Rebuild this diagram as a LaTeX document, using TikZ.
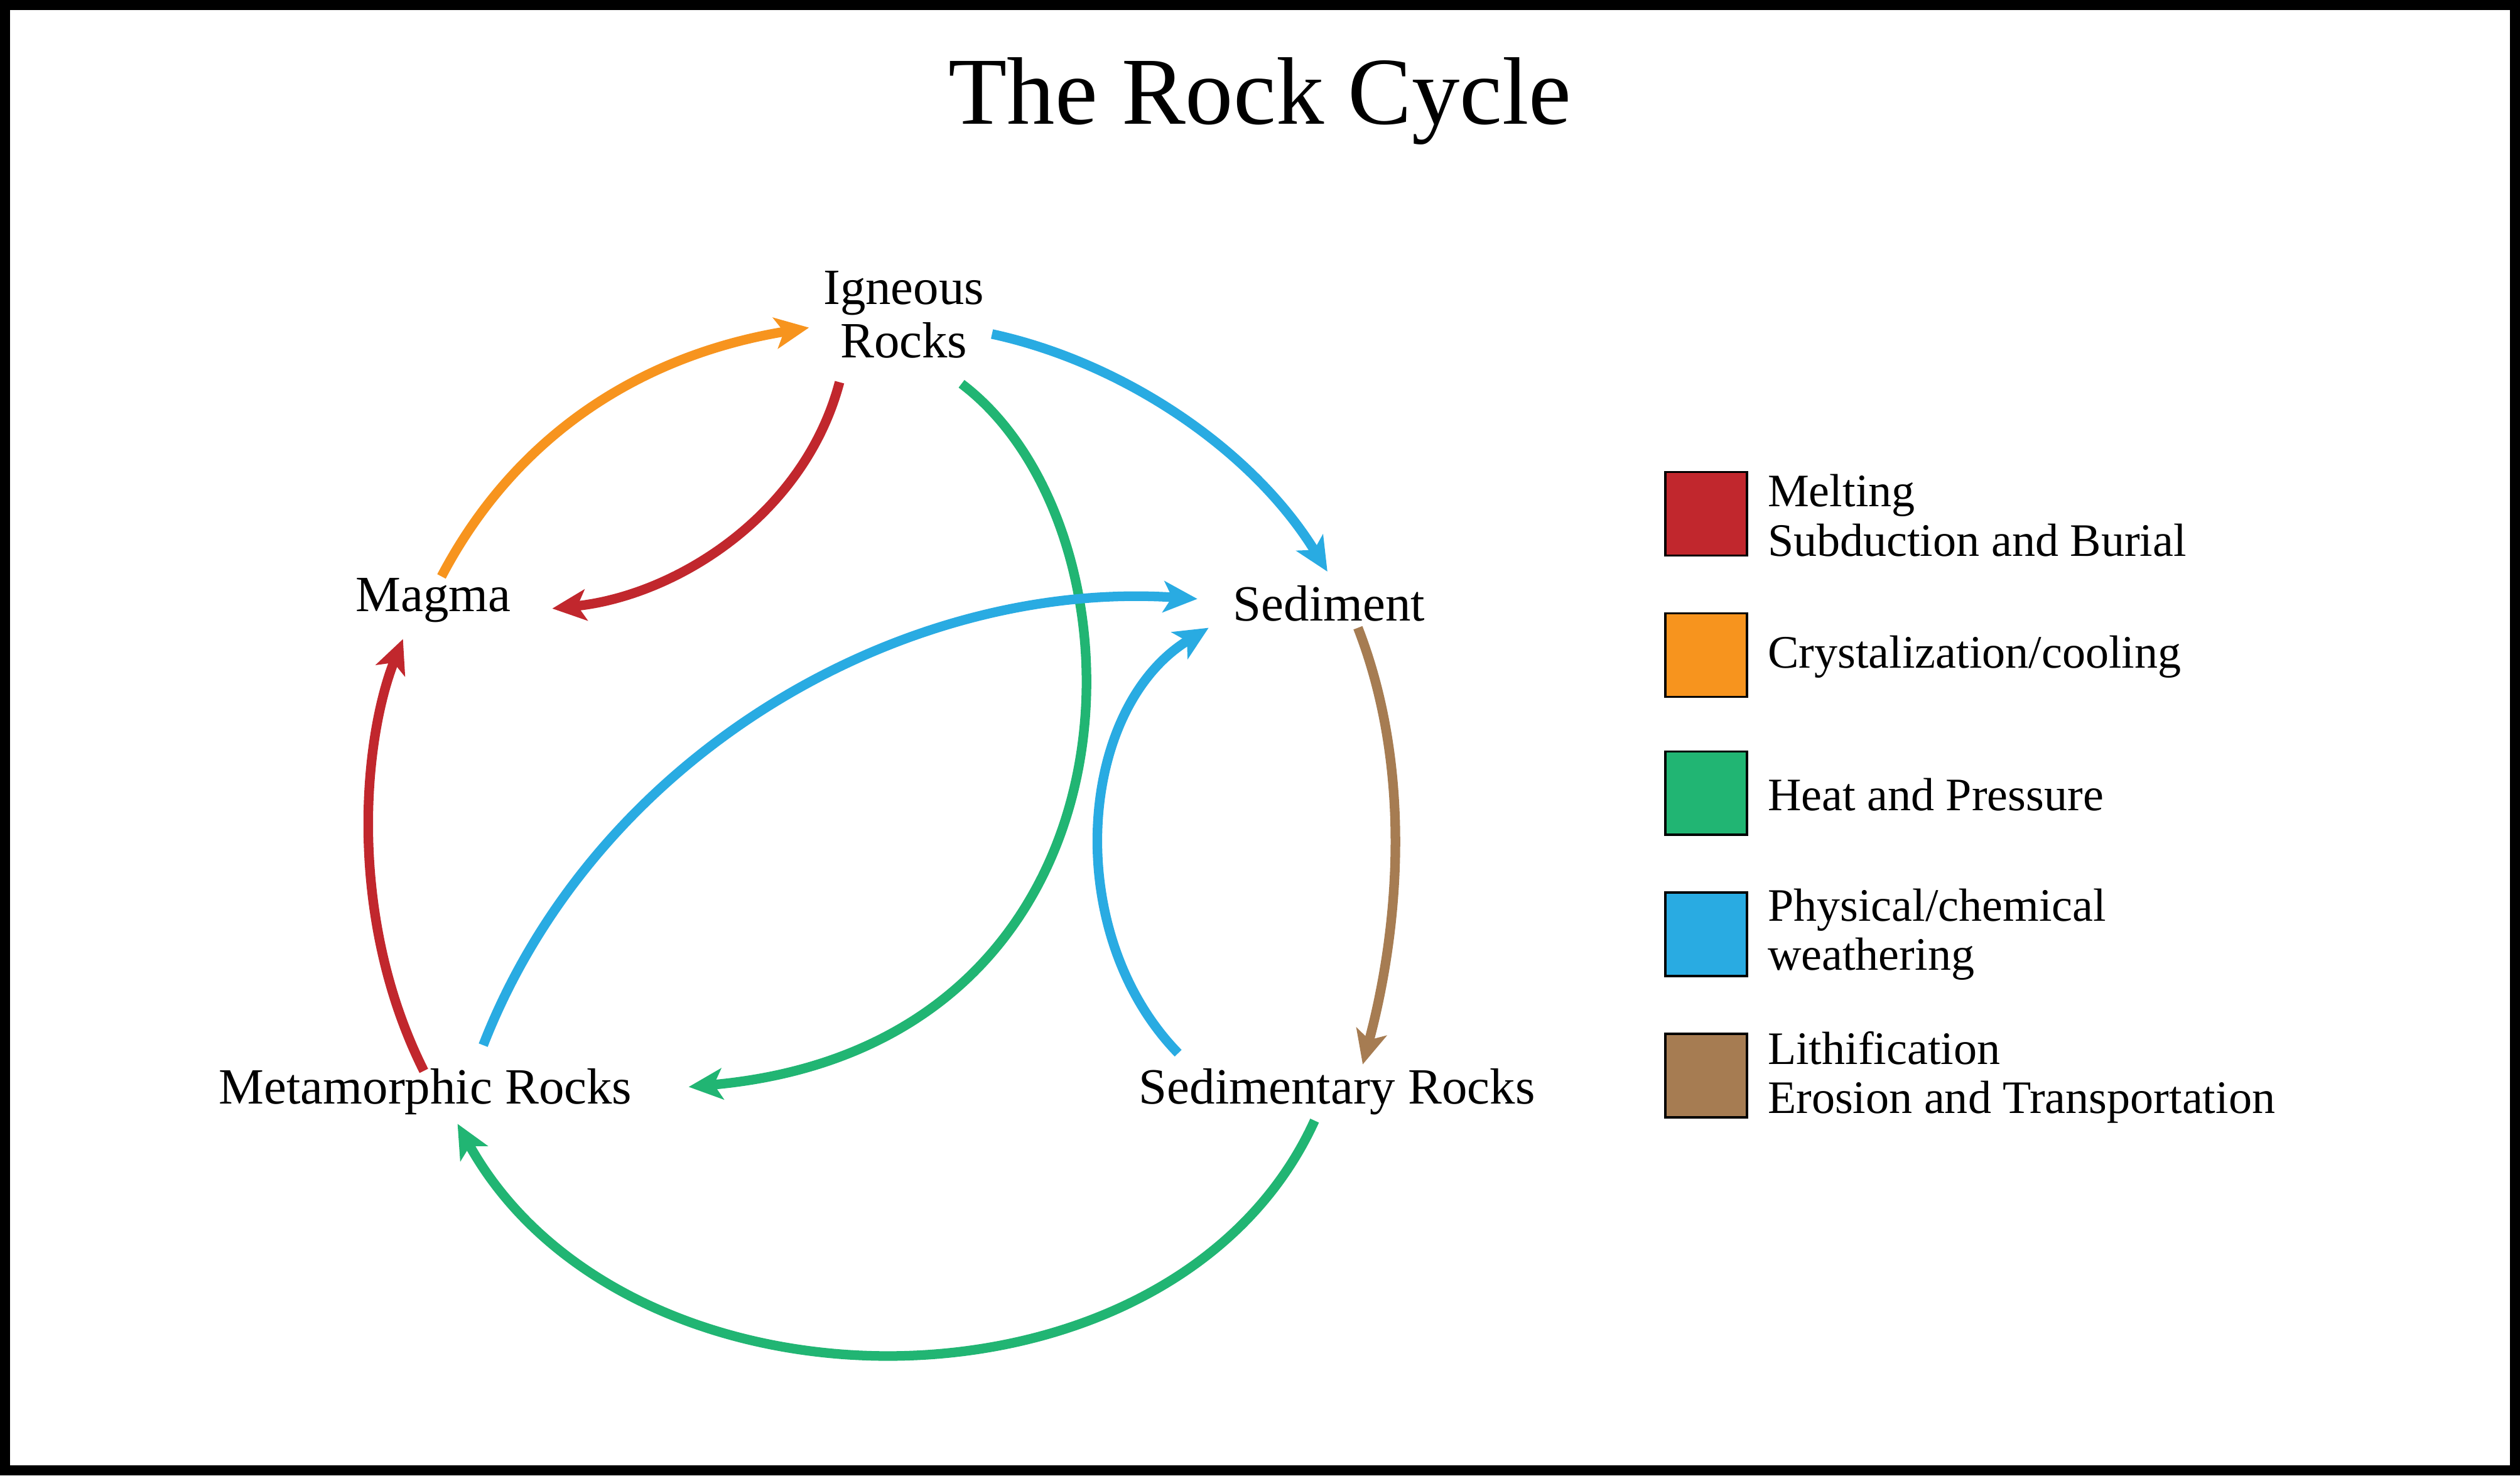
\documentclass[tikz,border=0pt]{standalone}
\usepackage{fontspec}
\setmainfont{Liberation Serif}
\usetikzlibrary{arrows.meta,calc}
\definecolor{cred}{HTML}{C1272D}
\definecolor{corange}{HTML}{F7941E}
\definecolor{cgreen}{HTML}{21B573}
\definecolor{cblue}{HTML}{29ABE2}
\definecolor{cbrown}{HTML}{A67C52}
\tikzset{
  lbl/.style={font=\fontsize{18}{19}\selectfont, align=center, inner sep=0pt},
  legtxt/.style={font=\fontsize{16.5}{17.5}\selectfont, align=left, anchor=west, inner sep=0pt},
  cyc/.style={line width=3.4pt, -{Stealth[length=12pt,width=11pt,inset=3pt]}},
  legbox/.style={draw=black, line width=0.8pt, minimum width=1.02cm, minimum height=1.04cm, inner sep=0pt}
}
\begin{document}
\begin{tikzpicture}[x=0.02cm,y=-0.02cm]
\draw[line width=3.5pt] (2,2) rectangle (1566,915);
\useasboundingbox (0,0) rectangle (1568,917);
\node[font=\fontsize{34}{36}\selectfont] (title) at (784,62) {The Rock Cycle};
\node[lbl] (ign) at (562,195) {Igneous\\Rocks};
\node[lbl] (mag) at (269,373) {Magma};
\node[lbl] (sed) at (827,375) {Sediment};
\node[lbl] (met) at (264,679) {Metamorphic Rocks};
\node[lbl] (sdr) at (832,679) {Sedimentary Rocks};
% endpoints
\coordinate (o1) at (274,358); \coordinate (o2) at (503,203);
\coordinate (r1) at (522,237); \coordinate (r2) at (343,378);
\coordinate (b1) at (617,207); \coordinate (b2) at (826,355);
\coordinate (g1) at (598,238); \coordinate (g2) at (428,676);
\coordinate (m1) at (300,650); \coordinate (m2) at (745,372);
\coordinate (s1) at (733,655); \coordinate (s2) at (752,390);
\coordinate (w1) at (845,390); \coordinate (w2) at (848,662);
\coordinate (h1) at (818,697); \coordinate (h2) at (284,699);
\coordinate (t1) at (263,666); \coordinate (t2) at (250,397);
\draw[cyc,corange] (o1) .. controls ($(o1)!2/3!(341.5,229.5)$) and ($(o2)!2/3!(341.5,229.5)$) .. (o2);
\draw[cyc,cred] (r1) .. controls (500,320) and (420,370) .. (r2);
\draw[cyc,cblue] (b1) .. controls (700,225) and (780,280) .. (b2);
\draw[cyc,cgreen] (g1) .. controls (720,330) and (720,650) .. (g2);
\draw[cyc,cblue] (m1) .. controls (370,470) and (560,360) .. (m2);
\draw[cyc,cblue] (s1) .. controls (660,580) and (670,440) .. (s2);
\draw[cyc,cbrown] (w1) .. controls (880,480) and (870,580) .. (w2);
\draw[cyc,cgreen] (h1) .. controls (730,890) and (390,890) .. (h2);
\draw[cyc,cred] (t1) .. controls (215,570) and (225,460) .. (t2);
% legend
\node[legbox,fill=cred] (k1) at (1062,319) {};
\node[legbox,fill=corange] (k2) at (1062,407) {};
\node[legbox,fill=cgreen] (k3) at (1062,493) {};
\node[legbox,fill=cblue] (k4) at (1062,581) {};
\node[legbox,fill=cbrown] (k5) at (1062,669) {};
\node[legtxt] (l1) at (1100,320) {Melting\\Subduction and Burial};
\node[legtxt] (l2) at (1100,408) {Crystalization/cooling};
\node[legtxt] (l3) at (1100,494) {Heat and Pressure};
\node[legtxt] (l4) at (1100,581) {Physical/chemical\\weathering};
\node[legtxt] (l5) at (1100,670) {Lithification\\Erosion and Transportation};
\end{tikzpicture}
\end{document}
